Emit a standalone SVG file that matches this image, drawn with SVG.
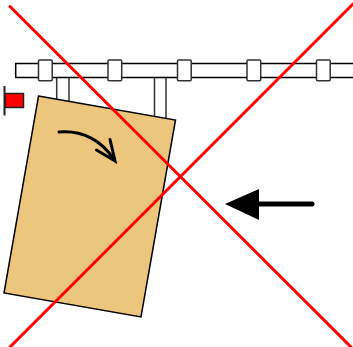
<svg xmlns="http://www.w3.org/2000/svg" width="353" height="347" viewBox="0 0 353 347">
<style>
.k{fill:#fff;stroke:#000;stroke-width:1.5}
.s{fill:#fff;stroke:#333;stroke-width:1.5}
.r{fill:none;stroke:#f00;stroke-width:3;stroke-linecap:round}
</style>
<rect width="353" height="347" fill="#fff"/>
<g id="posts">
<rect class="s" x="56.7" y="70" width="12.3" height="40"/>
<rect class="s" x="154.5" y="70" width="11.500" height="60"/>
</g>
<g id="rail"><rect class="k" x="15.7" y="63.500" width="345" height="14"/></g>
<g id="sliders">
<rect class="s" x="38.500" y="60" width="13.700" height="20.800" rx="1"/>
<rect class="s" x="108" y="60" width="13.700" height="20.800" rx="1"/>
<rect class="s" x="177.500" y="60" width="13.700" height="20.800" rx="1"/>
<rect class="s" x="247" y="60" width="13.700" height="20.800" rx="1"/>
<rect class="s" x="316.500" y="60" width="13.700" height="20.800" rx="1"/>
</g>
<g id="stop">
<rect x="5" y="93.500" width="18.500" height="14" fill="#f00" stroke="#222" stroke-width="1.500"/>
<path d="M4.500 86V115.500" stroke="#222" stroke-width="2" fill="none"/>
</g>
<g id="plate">
<path d="M38.500 96L175.500 120L141 317L4 293Z" fill="#ecc67d" stroke="#000" stroke-width="1.500"/>
<path d="M59 132C82 130 102 140 114.500 160.500M96.500 150L115 161L110 139.500" fill="none" stroke="#000" stroke-width="3" stroke-linecap="round"/>
</g>
<g id="push">
<path d="M258 204H312" stroke="#000" stroke-width="5" stroke-linecap="round"/>
<path d="M225 204L259 189V220Z" fill="#000"/>
</g>
<g id="cross">
<path class="r" d="M10 347L353 4"/>
<path class="r" d="M10 6.500L351 347"/>
</g>
</svg>
